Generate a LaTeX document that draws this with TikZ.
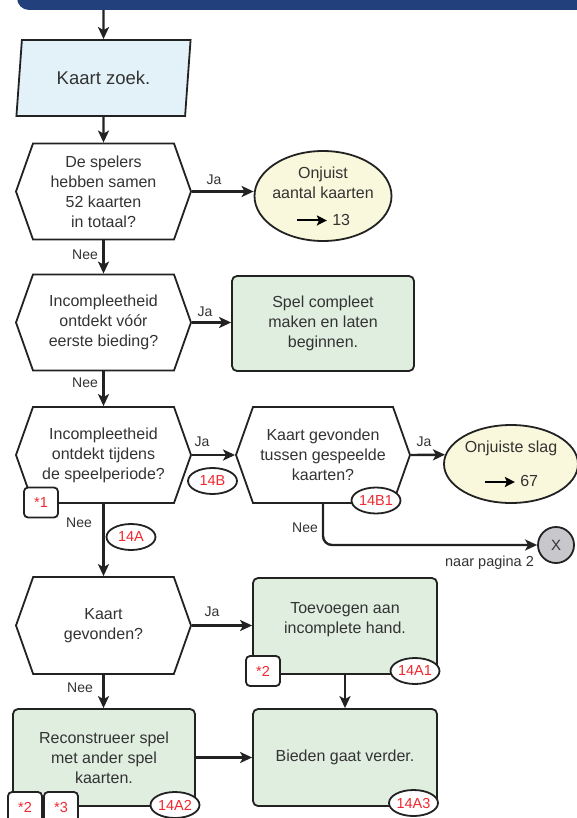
\documentclass[tikz,border=0pt]{standalone}
\usepackage{fontspec}
\setmainfont{Liberation Sans}
\usetikzlibrary{shapes.symbols,shapes.geometric,arrows.meta}
\definecolor{hdr}{HTML}{22407B}
\definecolor{txt}{HTML}{333333}
\definecolor{iofill}{HTML}{E2F2F8}
\definecolor{termfill}{HTML}{FAF8DC}
\definecolor{procfill}{HTML}{DFEEDF}
\definecolor{xfill}{HTML}{C8C8CC}
\definecolor{tagred}{HTML}{F02830}
\definecolor{edge}{HTML}{222222}
\newcommand\rarr{\tikz[baseline=-0.55ex]\draw[draw=black,line width=2pt,-{Stealth[length=10pt,width=10pt,inset=2pt]}](0pt,0pt)--(30pt,0pt);}
\begin{document}
\begin{tikzpicture}[x=1pt,y=-1pt,
  box/.style={draw=edge, line width=1.8pt, text=txt, align=center, font=\fontsize{16}{20}\selectfont, inner sep=0pt},
  hexa/.style={box, shape=signal, signal to=east and west, signal pointer angle=141, fill=white, minimum width=175pt, minimum height=96pt},
  iobox/.style={box, shape=trapezium, trapezium left angle=77, trapezium right angle=103, trapezium stretches=true, fill=iofill, minimum width=174.5pt, minimum height=76pt, font=\fontsize{18.5}{22}\selectfont},
  proc/.style={box, rectangle, rounded corners=5pt, fill=procfill},
  term/.style={box, ellipse, fill=termfill, inner sep=-18pt},
  tag/.style={draw=edge, line width=1.8pt, fill=white, text=tagred, font=\fontsize{14.5}{16}\selectfont, inner sep=0pt},
  rtag/.style={tag, rectangle, rounded corners=4pt, minimum width=34pt, minimum height=30pt},
  etag/.style={tag, ellipse, minimum width=49pt, minimum height=26pt, inner sep=-4pt},
  conn/.style={draw=edge, line width=2.4pt, -{Stealth[length=12pt,width=11pt,inset=3pt]}},
  lab/.style={text=txt, font=\fontsize{14}{16}\selectfont, inner sep=0pt}]
\clip (0,0) rectangle (577,818);
\fill[white] (0,0) rectangle (577,818);
% header bar
\fill[hdr, rounded corners=12pt] (17,-40) rectangle (620,10);
\coordinate (top) at (103.5,10);
% main nodes
\node[iobox] (io) at (103.5,78) {Kaart zoek.};
\node[hexa] (h1) at (103.5,191.5) {De spelers\\hebben samen\\52 kaarten\\in totaal?};
\node[term, minimum width=137pt, minimum height=90pt] (e1) at (323,196) {Onjuist\\aantal kaarten\\[7pt]\rarr\ 13};
\node[hexa] (h2) at (103.5,322.5) {Incompleetheid\\ontdekt vóór\\eerste bieding?};
\node[proc, minimum width=182pt, minimum height=95pt] (r1) at (323,323.5) {Spel compleet\\maken en laten\\beginnen.};
\node[hexa] (h3) at (103.5,455) {Incompleetheid\\ontdekt tijdens\\de speelperiode?};
\node[hexa, minimum width=174pt] (h4) at (323,455) {Kaart gevonden\\tussen gespeelde\\kaarten?};
\node[term, minimum width=134pt, minimum height=78pt] (e2) at (511,464) {Onjuiste slag\\[14pt]\rarr\ 67};
\node[draw=edge, line width=1.8pt, circle, fill=xfill, minimum size=36pt, inner sep=0pt, text=txt, font=\fontsize{15}{16}\selectfont] (x) at (556,545) {X};
\node[lab, font=\fontsize{14.5}{16}\selectfont] (np) at (489.5,563) {naar pagina 2};
\node[hexa, minimum height=97pt] (h5) at (103.5,625.5) {Kaart\\gevonden?};
\node[proc, minimum width=184pt, minimum height=96pt] (r2) at (345,626) {Toevoegen aan\\incomplete hand.\\[-4pt]\mbox{}};
\node[proc, minimum width=182pt, minimum height=97pt] (r3) at (104,757.5) {Reconstrueer spel\\met ander spel\\kaarten.};
\node[proc, minimum width=184pt, minimum height=97pt] (r4) at (345,757.5) {Bieden gaat verder.};
% connectors
\draw[conn] (top) -- (io.north);
\draw[conn] (io.south) -- (h1.north);
\draw[conn] (h1.east) -- (h1.east -| e1.west);
\draw[conn] (h1.south) -- (h2.north);
\draw[conn] (h2.east) -- (h2.east -| r1.west);
\draw[conn] (h2.south) -- (h3.north);
\draw[conn] (h3.east) -- (h4.west);
\draw[conn] (h4.east) -- (e2.172);
\draw[conn, rounded corners=9pt] (h4.south) |- (x.west);
\draw[conn] (h3.south) -- (h5.north);
\draw[conn] (h5.east) -- (h5.east -| r2.west);
\draw[conn] (r2.south) -- (r4.north);
\draw[conn] (h5.south) -- (h5.south |- r3.north);
\draw[conn] (r3.east) -- (r3.east -| r4.west);
% labels
\node[lab] (ja1) at (214,180) {Ja};
\node[lab] (nee1) at (85,255) {Nee};
\node[lab] (ja2) at (205,312) {Ja};
\node[lab] (nee2) at (85,383) {Nee};
\node[lab] (ja3) at (202,442) {Ja};
\node[lab] (ja4) at (424,442) {Ja};
\node[lab] (nee3) at (79,523) {Nee};
\node[lab] (nee4) at (305,528) {Nee};
\node[lab] (ja5) at (212,612) {Ja};
\node[lab] (nee5) at (80,688) {Nee};
% tags
\node[rtag] (t1) at (41,502.5) {*1};
\node[rtag] (t2) at (263,671) {*2};
\node[rtag] (t3) at (25,807) {*2};
\node[rtag] (t4) at (61,807) {*3};
\node[etag] (ta) at (212.5,481) {14B};
\node[etag] (tb) at (376,500.5) {14B1};
\node[etag] (tc) at (131,537) {14A};
\node[etag] (td) at (415,671) {14A1};
\node[etag] (tf) at (175,805) {14A2};
\node[etag] (tg) at (413.5,803) {14A3};
\end{tikzpicture}
\end{document}
